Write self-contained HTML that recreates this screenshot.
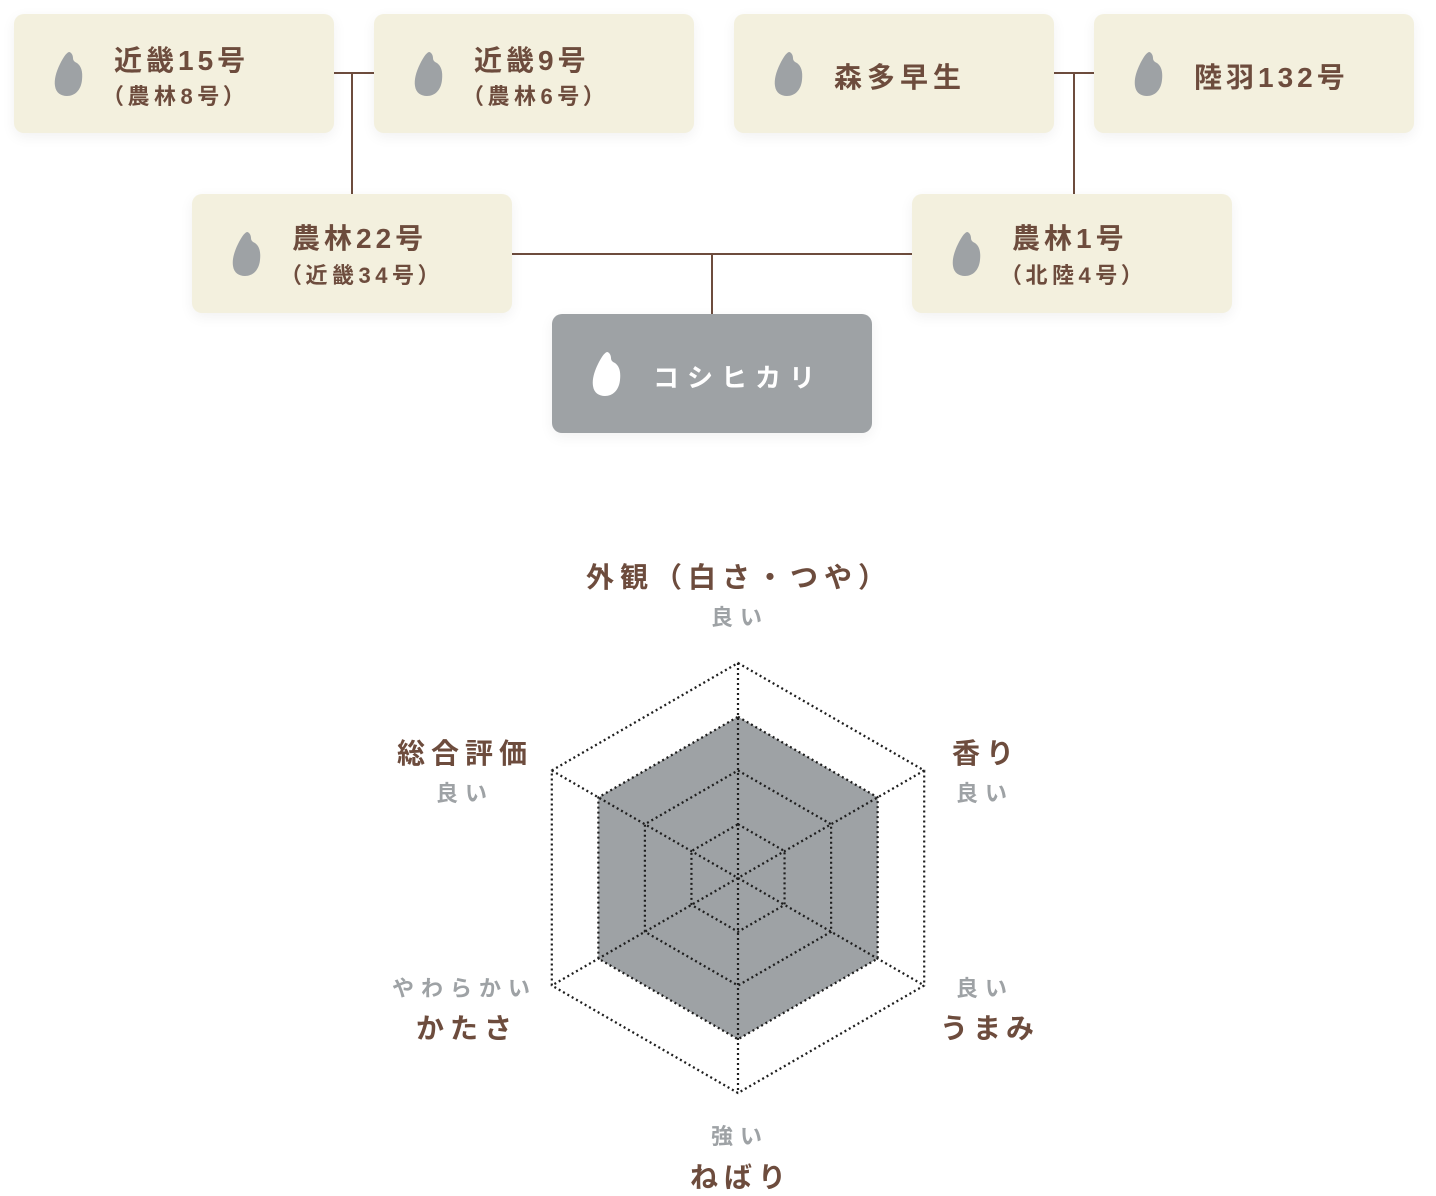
<!DOCTYPE html>
<html>
<head>
<meta charset="utf-8">
<style>
html,body{margin:0;padding:0;background:#fff;}
body{width:1436px;height:1196px;position:relative;overflow:hidden;font-family:"Liberation Sans","Noto Sans CJK JP",sans-serif;font-weight:bold;}
.box{position:absolute;width:320px;height:119px;border-radius:10px;background:#f3f0de;box-shadow:0 4px 14px rgba(0,0,0,0.06);}
.box.main{background:#9ea2a5;}
.icon{position:absolute;left:40px;width:29px;height:44px;}
.t{position:absolute;white-space:nowrap;line-height:1;color:#6d4c3d;}
.tt{font-size:28px;letter-spacing:4px;}
.st{font-size:22px;letter-spacing:4.5px;font-feature-settings:"palt";}
.rl{font-size:28px;letter-spacing:6px;color:#6d4c3d;}
.gl{font-size:22px;letter-spacing:7px;color:#9ea2a5;}
svg.abs{position:absolute;left:0;top:0;}
</style>
</head>
<body>
<svg width="0" height="0" style="position:absolute">
  <defs>
    <path id="grain" d="M15,0 C12,1 9,6 6,12 C2,20 0,28 1,34 C2,41 7,44 13,44 C21,44 27,38 28,28 C29,19 27,14 23,11 C21,10 19,9 19,6 C19,3 17,0 15,0 Z"/>
  </defs>
</svg>
<svg class="abs" width="1436" height="1196" viewBox="0 0 1436 1196">
  <g stroke="#6d4c3d" stroke-width="2" fill="none">
    <line x1="334" y1="73" x2="374" y2="73"/>
    <line x1="352" y1="73" x2="352" y2="194"/>
    <line x1="1054" y1="73" x2="1094" y2="73"/>
    <line x1="1074" y1="73" x2="1074" y2="194"/>
    <line x1="512" y1="254" x2="912" y2="254"/>
    <line x1="712" y1="254" x2="712" y2="314"/>
  </g>
</svg>

<!-- Row 1 -->
<div class="box" style="left:14px;top:14px;">
  <svg class="icon" style="top:38px" viewBox="0 0 29 44"><use href="#grain" fill="#9ea2a5"/></svg>
  <div class="t tt" style="left:100px;top:33px;">近畿15号</div>
  <div class="t st" style="left:98px;top:72px;">（農林8号）</div>
</div>
<div class="box" style="left:374px;top:14px;">
  <svg class="icon" style="top:38px" viewBox="0 0 29 44"><use href="#grain" fill="#9ea2a5"/></svg>
  <div class="t tt" style="left:100px;top:33px;">近畿9号</div>
  <div class="t st" style="left:98px;top:72px;">（農林6号）</div>
</div>
<div class="box" style="left:734px;top:14px;">
  <svg class="icon" style="top:38px" viewBox="0 0 29 44"><use href="#grain" fill="#9ea2a5"/></svg>
  <div class="t tt" style="left:100px;top:50px;letter-spacing:5px;">森多早生</div>
</div>
<div class="box" style="left:1094px;top:14px;">
  <svg class="icon" style="top:38px" viewBox="0 0 29 44"><use href="#grain" fill="#9ea2a5"/></svg>
  <div class="t tt" style="left:100px;top:50px;">陸羽132号</div>
</div>

<!-- Row 2 -->
<div class="box" style="left:192px;top:194px;">
  <svg class="icon" style="top:38px" viewBox="0 0 29 44"><use href="#grain" fill="#9ea2a5"/></svg>
  <div class="t tt" style="left:100px;top:31px;">農林22号</div>
  <div class="t st" style="left:98px;top:71px;">（近畿34号）</div>
</div>
<div class="box" style="left:912px;top:194px;">
  <svg class="icon" style="top:38px" viewBox="0 0 29 44"><use href="#grain" fill="#9ea2a5"/></svg>
  <div class="t tt" style="left:100px;top:31px;">農林1号</div>
  <div class="t st" style="left:98px;top:71px;">（北陸4号）</div>
</div>

<!-- Main -->
<div class="box main" style="left:552px;top:314px;">
  <svg class="icon" style="top:38px" viewBox="0 0 29 44"><use href="#grain" fill="#ffffff"/></svg>
  <div class="t" style="left:101px;top:51px;font-size:26px;letter-spacing:8px;color:#fff;">コシヒカリ</div>
</div>

<!-- Radar -->
<svg class="abs" width="1436" height="1196" viewBox="0 0 1436 1196">
  <polygon points="738,716.75 877.64,797.38 877.64,958.62 738,1039.25 598.36,958.62 598.36,797.38" fill="#9ea2a5"/>
  <g fill="none" stroke="#1e1e1e" stroke-width="2.2" stroke-dasharray="2 3">
    <polygon points="738,663 924.2,770.5 924.2,985.5 738,1093 551.8,985.5 551.8,770.5"/>
    <polygon points="738,716.75 877.64,797.38 877.64,958.62 738,1039.25 598.36,958.62 598.36,797.38"/>
    <polygon points="738,770.5 831.1,824.25 831.1,931.75 738,985.5 644.9,931.75 644.9,824.25"/>
    <polygon points="738,824.25 784.55,851.13 784.55,904.88 738,931.75 691.45,904.88 691.45,851.13"/>
    <line x1="738" y1="663" x2="738" y2="1093"/>
    <line x1="551.8" y1="770.5" x2="924.2" y2="985.5"/>
    <line x1="924.2" y1="770.5" x2="551.8" y2="985.5"/>
  </g>
</svg>

<div class="t rl" style="left:586px;top:564px;">外観（白さ・つや）</div>
<div class="t gl" style="left:711px;top:607px;">良い</div>

<div class="t rl" style="left:397px;top:740px;">総合評価</div>
<div class="t gl" style="left:436px;top:783px;">良い</div>

<div class="t rl" style="left:952px;top:740px;">香り</div>
<div class="t gl" style="left:956px;top:783px;">良い</div>

<div class="t gl" style="left:392px;top:978px;">やわらかい</div>
<div class="t rl" style="left:416px;top:1015px;">かたさ</div>

<div class="t gl" style="left:956px;top:978px;">良い</div>
<div class="t rl" style="left:940px;top:1015px;letter-spacing:5px;">うまみ</div>

<div class="t gl" style="left:711px;top:1126px;">強い</div>
<div class="t rl" style="left:690px;top:1164px;">ねばり</div>
</body>
</html>
